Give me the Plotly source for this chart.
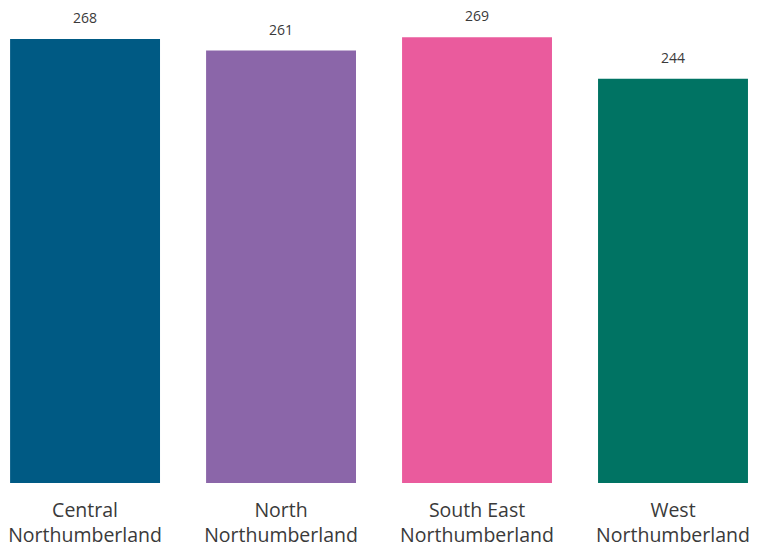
import plotly.graph_objects as go

categories = ["Central<br>Northumberland", "North<br>Northumberland",
              "South East<br>Northumberland", "West<br>Northumberland"]
values = [268, 261, 269, 244]
colors = ["#005A84", "#8B66A9", "#EA5B9D", "#007363"]

fig = go.Figure()
fig.add_trace(go.Bar(x=categories, y=values, marker=dict(color=colors, line=dict(width=0)),
                     hoverinfo="skip"))
for c, v in zip(categories, values):
    fig.add_annotation(x=c, y=v, text=str(v), showarrow=False, yanchor="bottom",
                       yshift=10, font=dict(family="Open Sans", size=14, color="#3a3a3a"))

fig.update_layout(
    width=757, height=547,
    margin=dict(l=0, r=0, t=0, b=64),
    plot_bgcolor="white", paper_bgcolor="white",
    bargap=0.235, showlegend=False,
    xaxis=dict(range=[-0.434, 3.4286], showgrid=False, showline=False, zeroline=False,
               automargin=False, ticks="", ticklabelstandoff=13,
               tickfont=dict(family="Open Sans", size=19.5, color="#3a3a3a")),
    yaxis=dict(range=[0, 291.5], visible=False, automargin=False),
)
fig.write_html("out.html", config={"displayModeBar": False},
               post_script="document.body.style.margin='0';")
